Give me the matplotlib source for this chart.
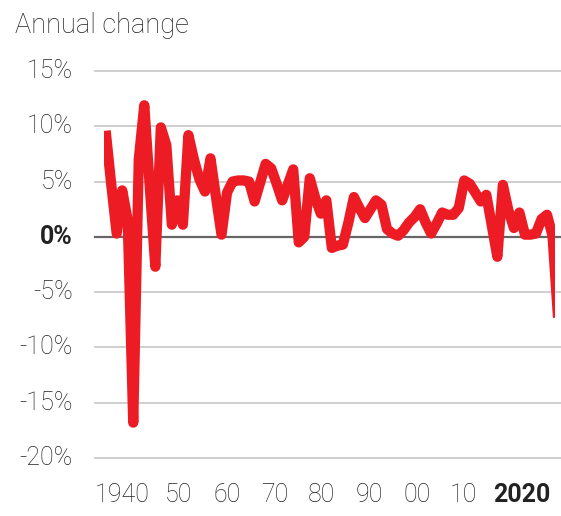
import numpy as np
import matplotlib.pyplot as plt

plt.rcParams['font.family'] = ['Roboto', 'DejaVu Sans']

years = list(range(1938, 2021))
change = [9.6, 4.8, 0.3, 4.2, 1.5, -16.8, 7.0, 11.9, 4.5, -2.7,
          9.9, 8.3, 1.1, 3.3, 1.1, 9.2, 7.0, 5.2, 4.1, 7.1,
          3.6, 0.2, 4.0, 5.0, 5.1, 5.1, 5.0, 3.2, 4.9, 6.6,
          6.2, 4.8, 3.3, 4.7, 6.1, -0.5, 0.0, 5.3, 3.5, 2.1,
          3.3, -1.0, -0.8, -0.7, 1.3, 3.6, 2.6, 1.7, 2.5, 3.3,
          2.9, 0.7, 0.3, 0.1, 0.6, 1.3, 1.8, 2.5, 1.3, 0.3,
          1.2, 2.2, 2.0, 2.0, 2.6, 5.1, 4.8, 4.0, 3.2, 3.8,
          1.0, -1.8, 4.7, 2.4, 0.8, 2.2, 0.2, 0.2, 0.3, 1.6,
          2.0, 0.1, -7.3]

y_ticks = [15, 10, 5, 0, -5, -10, -15, -20]
x_labels = ['1940', '50', '60', '70', '80', '90', '00', '10', '2020']
x_label_pos = [0.040, 0.164, 0.273, 0.379, 0.483, 0.588, 0.694, 0.798, 0.927]

text_col = '#222222'
red = '#ED1C24'

fig = plt.figure(figsize=(5.61, 5.16), dpi=100)
ax = fig.add_axes([104/561, 1 - 458/516, 451/561, 387/516])
ax.set_xlim(1937.7, 2019.45)
ax.set_ylim(-20, 15)
ax.axis('off')

for v in y_ticks:
    if v == 0:
        ax.axhline(v, xmin=-9/451, xmax=1 + 6/451, color='#666666', lw=1.6,
                   clip_on=False, zorder=1)
    else:
        ax.axhline(v, xmin=-9/451, xmax=1 + 6/451, color='#cccccc', lw=1.3,
                   clip_on=False, zorder=1)
    ax.text(-31/451, v, f'{v}%', transform=ax.get_yaxis_transform(),
            ha='right', va='center', fontsize=18, color=text_col,
            fontweight='bold' if v == 0 else 'light')

ax.plot(years, change, color=red, lw=7.4, solid_joinstyle='round',
        solid_capstyle='butt', zorder=3)

for lab, pos in zip(x_labels, x_label_pos):
    ax.text(pos, -0.0956, lab, transform=ax.transAxes, ha='center', va='center',
            fontsize=18, color=text_col,
            fontweight='bold' if lab == '2020' else 'light')

fig.text(15/561, 1 - 33/516, 'Annual change', ha='left', va='baseline',
         fontsize=19.5, color=text_col, fontweight='light')

fig.savefig('out.png', dpi=100)
